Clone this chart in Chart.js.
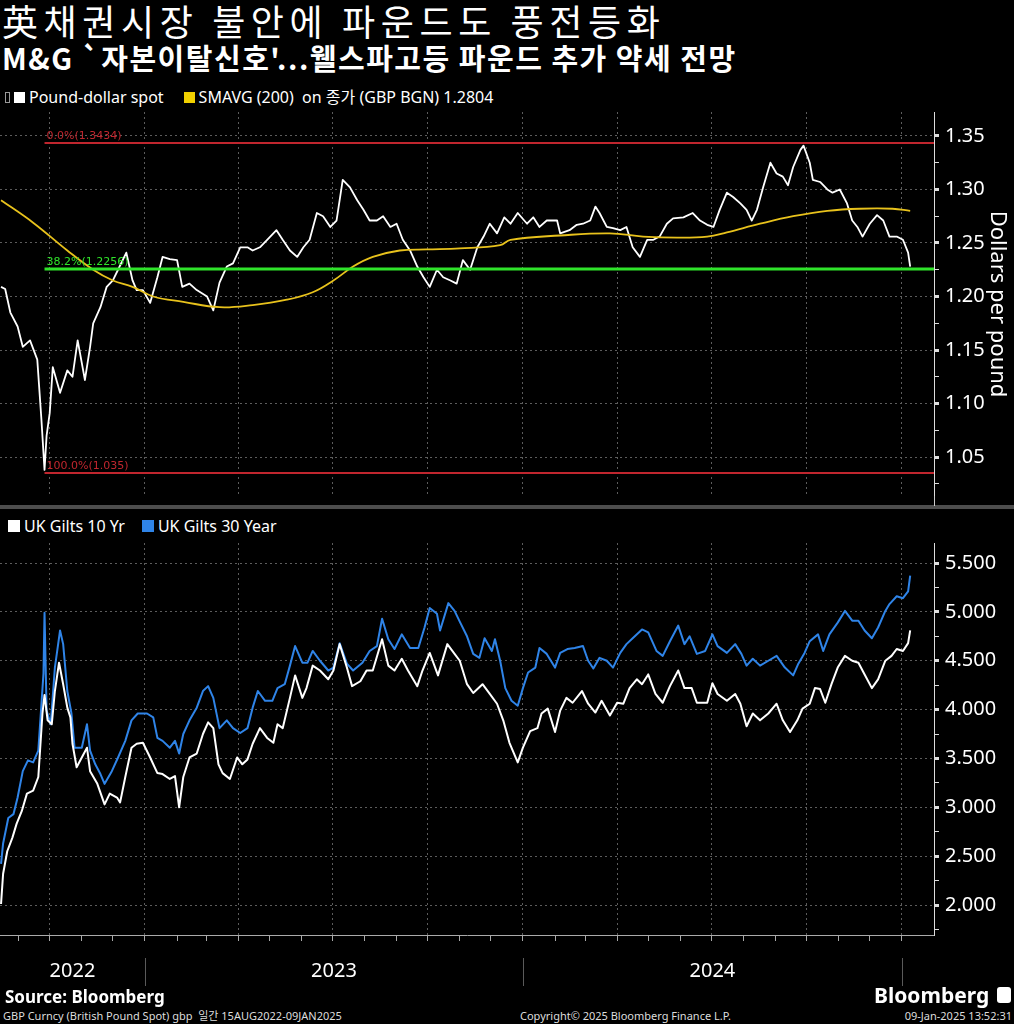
<!DOCTYPE html>
<html>
<head>
<meta charset="utf-8">
<script src="https://cdn.jsdelivr.net/npm/chart.js@4.4.1/dist/chart.umd.min.js"></script>
<style>
  body { margin: 0; background: #000; width: 1014px; height: 1024px; overflow: hidden; position: relative;
         font-family: "Noto Sans", "Noto Sans CJK KR", sans-serif; color: #fff; }
  .abs { position: absolute; white-space: nowrap; }
  #t1 { left: 2px; top: -1px; font-family: "Noto Sans CJK KR"; font-size: 36px; line-height: 42px; letter-spacing: 5.6px; }
  #t2 { left: 2px; top: 41px; font-family: "Noto Sans CJK KR"; font-size: 29px; line-height: 32px; font-weight: 700; letter-spacing: 1.5px; }
  .leg { font-size: 16px; line-height: 20px; display: flex; align-items: center; }
  .sq { display: inline-block; width: 11px; height: 11px; margin-right: 4px; }
  #sep { left: 0; top: 505px; width: 1014px; height: 4px; background: #4d4d4d; }
  #axisExt { left: 934px; top: 496px; width: 1px; height: 10px; background: #ccc; }
  #src { left: 5px; top: 987px; font-size: 17px; line-height: 20px; font-weight: 700; }
  .small { top: 1009px; font-size: 11px; line-height: 14px; color: #ddd; }
  #logo { left: 874px; top: 982px; font-size: 21px; line-height: 26px; font-weight: 700; display: flex; align-items: center; }
  #logo span { display: inline-block; width: 14px; height: 16px; background: #fff; border-radius: 3px; margin-left: 8px; }
  canvas { position: absolute; left: 0; }
</style>
</head>
<body>
<div id="t1" class="abs">英채권시장 불안에 파운드도 풍전등화</div>
<div id="t2" class="abs">M&amp;G `자본이탈신호'...웰스파고등 파운드 추가 약세 전망</div>
<div class="abs leg" style="left:5px;top:87px;">
  <span style="display:inline-block;width:3px;height:9px;border:1px solid #999;margin-right:4px;"></span>
  <span class="sq" style="background:#fff"></span>Pound-dollar spot
  <span class="sq" style="background:#f0d000;margin-left:20px;"></span>SMAVG (200)&nbsp;&nbsp;on 종가 (GBP BGN) 1.2804
</div>
<div class="abs leg" style="left:8px;top:516px;">
  <span class="sq" style="background:#fff;width:12px;height:12px;"></span>UK Gilts 10 Yr
  <span class="sq" style="background:#2f84e8;width:12px;height:12px;margin-left:17px;"></span>UK Gilts 30 Year
</div>

<canvas id="top" width="1014" height="400" style="top:110px"></canvas>
<canvas id="bottom" width="1014" height="450" style="top:540px"></canvas>
<div id="sep" class="abs"></div>
<div id="axisExt" class="abs"></div>

<div id="src" class="abs">Source: Bloomberg</div>
<div class="abs small" style="left:3px;">GBP Curncy (British Pound Spot) gbp &nbsp;일간 15AUG2022-09JAN2025</div>
<div class="abs small" style="left:520px;">Copyright© 2025 Bloomberg Finance L.P.</div>
<div class="abs small" style="right:2px;">09-Jan-2025 13:52:31</div>
<div id="logo" class="abs">Bloomberg<span></span></div>

<script>
// x values are days since 15 Aug 2022
const xMin = -1, xMax = 901;
const quarterDays = [47, 139, 229, 320, 412, 504, 595, 686, 778, 870];
const monthDays = [17, 47, 78, 108, 139, 170, 198, 229, 259, 290, 320, 351, 382, 412, 443, 473,
  504, 535, 564, 595, 625, 656, 686, 717, 748, 778, 809, 839, 870];
const yearLabels = ['2022', '2023', '2024'];
const yearStarts = [-1, 139, 504, 870];

// pound-dollar spot
const spotDays = [0,4,9,16,21,28,35,39,42,44,47,50,57,64,69,74,81,86,89,96,
  102,108,113,121,127,131,137,144,151,156,163,170,175,182,189,199,205,211,218,224,
  231,238,243,250,257,266,272,279,286,292,298,305,311,318,324,330,337,344,350,356,
  363,369,376,382,388,395,402,408,414,421,427,434,440,446,453,460,466,472,479,486,
  492,499,508,514,520,527,537,540,549,556,562,569,574,578,585,591,598,604,610,617,
  624,630,636,643,649,659,668,675,682,688,694,701,707,714,720,725,730,736,743,749,
  755,760,765,772,775,781,784,791,798,803,810,817,822,827,832,839,846,852,858,865,
  871,876,878];
const spotValues = [1.209,1.207,1.185,1.172,1.153,1.159,1.141,1.085,1.038,1.070,
  1.091,1.134,1.110,1.131,1.125,1.159,1.122,1.153,1.175,1.190,
  1.209,1.215,1.225,1.241,1.215,1.206,1.206,1.194,1.218,1.237,
  1.235,1.234,1.209,1.212,1.206,1.200,1.187,1.213,1.228,1.231,
  1.246,1.246,1.243,1.246,1.253,1.262,1.253,1.243,1.237,1.246,
  1.253,1.278,1.275,1.265,1.271,1.309,1.302,1.290,1.281,1.271,
  1.271,1.275,1.265,1.268,1.253,1.243,1.228,1.218,1.209,1.225,
  1.218,1.215,1.212,1.234,1.225,1.246,1.256,1.268,1.259,1.274,
  1.268,1.278,1.268,1.274,1.265,1.271,1.271,1.259,1.262,1.267,
  1.268,1.271,1.284,1.278,1.265,1.264,1.262,1.265,1.246,1.237,
  1.253,1.253,1.256,1.268,1.273,1.274,1.278,1.271,1.267,1.265,
  1.281,1.297,1.293,1.287,1.281,1.271,1.281,1.302,1.325,1.315,
  1.312,1.304,1.321,1.337,1.341,1.325,1.309,1.307,1.300,1.297,
  1.300,1.287,1.271,1.265,1.256,1.268,1.276,1.271,1.256,1.256,
  1.253,1.241,1.228];

// 200-day moving average
const smaDays = [0,31,64,89,108,127,147,176,211,243,276,301,321,340,359,385,411,443,482,492,
  540,588,620,653,682,701,733,765,798,829,861,878];
const smaValues = [1.290,1.269,1.243,1.225,1.215,1.209,1.200,1.195,1.190,1.192,
  1.197,1.204,1.215,1.228,1.237,1.243,1.244,1.245,1.248,1.253,
  1.257,1.259,1.256,1.255,1.256,1.260,1.268,1.275,1.280,1.282,1.282,1.280];

// fibonacci retracement levels
const fibStartDay = 42;
const fibLevels = [1.3434, 1.2256, 1.035];
const fibLabels = ['0.0%(1.3434)', '38.2%(1.2256)', '100.0%(1.035)'];
const fibColors = ['#c0262e', '#2fe32a', '#c0262e'];

// gilt yields
const gilt10Days = [0,2,6,11,15,20,25,31,36,40,42,45,49,52,56,60,64,67,69,73,
  78,83,86,93,100,105,112,115,120,126,131,137,144,151,156,163,168,172,176,182,
  189,195,200,205,210,214,221,228,233,238,243,250,257,263,267,272,279,284,291,295,
  301,308,316,321,327,334,339,347,353,359,368,374,380,387,393,402,407,414,422,431,
  438,443,450,456,465,472,479,485,491,499,504,511,518,522,528,535,540,546,552,561,
  567,574,580,588,595,601,607,614,619,625,632,639,646,654,660,667,672,682,687,692,
  701,709,714,720,726,733,741,749,755,762,769,774,781,786,791,796,802,808,815,822,
  828,834,841,847,854,860,865,871,876,878];
const gilt10Values = [2.01,2.32,2.55,2.69,2.83,2.96,3.14,3.17,3.31,3.96,
  4.15,3.89,3.85,4.19,4.48,4.26,4.02,3.92,3.65,3.41,
  3.51,3.61,3.37,3.24,3.03,3.14,3.10,3.05,3.31,3.61,
  3.65,3.66,3.51,3.35,3.34,3.29,3.32,3.00,3.31,3.51,
  3.55,3.75,3.87,3.81,3.44,3.35,3.29,3.51,3.44,3.49,
  3.65,3.81,3.71,3.66,3.85,3.81,4.12,4.35,4.12,4.22,
  4.45,4.40,4.31,4.40,4.67,4.43,4.24,4.29,4.40,4.40,
  4.72,4.45,4.40,4.52,4.40,4.24,4.40,4.58,4.35,4.67,
  4.57,4.50,4.26,4.17,4.26,4.16,4.06,3.89,3.66,3.46,
  3.61,3.78,3.81,3.96,4.01,3.77,3.99,4.12,4.07,4.19,
  4.06,3.97,4.09,3.94,4.07,4.06,4.22,4.31,4.26,4.36,
  4.16,4.07,4.24,4.40,4.22,4.22,4.07,4.07,4.27,4.16,
  4.09,4.16,4.06,3.83,3.96,3.89,3.96,4.06,3.89,3.77,
  3.89,4.01,4.06,4.22,4.21,4.07,4.26,4.43,4.55,4.50,
  4.48,4.36,4.22,4.31,4.50,4.55,4.62,4.60,4.68,4.81];
const gilt30Days = [0,2,7,12,16,21,26,31,36,41,42,44,48,52,57,60,64,68,71,78,
  83,86,91,96,100,107,113,120,126,132,141,147,151,156,163,168,172,176,182,189,
  195,200,205,211,218,224,231,238,243,248,255,262,267,274,279,284,291,296,301,308,
  316,321,327,334,340,349,356,363,368,374,380,387,395,403,409,414,421,424,432,438,
  443,450,456,462,467,474,477,482,487,493,499,504,509,516,520,527,535,540,547,554,
  562,567,572,578,585,591,598,604,610,619,625,633,639,646,654,660,665,672,680,687,
  692,701,709,715,720,726,733,741,749,757,765,770,776,781,789,794,800,808,815,822,
  828,834,841,847,854,858,865,871,876,878];
const gilt30Values = [2.42,2.63,2.89,2.93,3.10,3.37,3.48,3.46,3.58,4.37,
  4.99,3.99,3.85,4.43,4.81,4.67,4.19,3.96,3.61,3.61,
  3.85,3.58,3.44,3.34,3.24,3.37,3.51,3.68,3.89,3.96,
  3.96,3.92,3.71,3.68,3.61,3.68,3.55,3.75,3.89,4.02,
  4.19,4.24,4.12,3.81,3.89,3.81,3.76,3.81,4.02,4.19,
  4.09,4.09,4.22,4.26,4.45,4.65,4.48,4.48,4.60,4.50,
  4.40,4.43,4.68,4.47,4.40,4.48,4.60,4.65,4.93,4.72,
  4.62,4.77,4.63,4.63,4.84,5.04,4.98,4.81,5.09,5.01,
  4.90,4.75,4.57,4.53,4.73,4.60,4.72,4.50,4.22,4.09,
  4.04,4.22,4.38,4.43,4.63,4.57,4.43,4.58,4.62,4.63,
  4.65,4.50,4.42,4.53,4.50,4.43,4.58,4.67,4.73,4.82,
  4.79,4.60,4.55,4.70,4.86,4.67,4.75,4.57,4.60,4.77,
  4.65,4.58,4.67,4.57,4.45,4.52,4.45,4.50,4.55,4.43,
  4.35,4.47,4.58,4.70,4.77,4.60,4.77,4.89,5.01,4.91,
  4.91,4.81,4.73,4.84,5.01,5.08,5.16,5.14,5.21,5.37];

// axis ticks
const priceMajor = ['1.05', '1.10', '1.15', '1.20', '1.25', '1.30', '1.35'];
const priceMinor = [1.025, 1.075, 1.125, 1.175, 1.225, 1.275, 1.325];
const yieldMajor = ['2.000', '2.500', '3.000', '3.500', '4.000', '4.500', '5.000', '5.500'];
const yieldMinor = [1.75, 2.25, 2.75, 3.25, 3.75, 4.25, 4.75, 5.25];

const pts = (xs, ys) => xs.map((d, i) => ({ x: d, y: ys[i] }));
const isMajor = (list, v) => list.some(l => Math.abs(Number(l) - v) < 1e-6);
const gridGrey = '#5c5c5c';

function yAxis(major, minor, min, max, title) {
  return {
    position: 'right', min: min, max: max,
    afterBuildTicks: s => {
      s.ticks = major.map(Number).concat(minor).sort((a, b) => a - b).map(v => ({ value: v }));
    },
    afterFit: s => { s.width = 80; s.paddingTop = 0; s.paddingBottom = 0; },
    ticks: {
      color: '#fff', padding: 6, autoSkip: false, font: { family: 'Noto Sans', size: 20 },
      callback: v => major.find(l => Math.abs(Number(l) - v) < 1e-6) || ''
    },
    grid: {
      color: c => isMajor(major, c.tick.value) ? gridGrey : 'transparent',
      tickColor: '#ddd', tickLength: 5,
      tickWidth: c => isMajor(major, c.tick.value) ? 3 : 1
    },
    border: { color: '#ddd', width: 1, dash: [2, 3] },
    title: title ? { display: true, text: title, color: '#fff', font: { family: 'Noto Sans', size: 22 }, padding: { top: 4, bottom: 4 } } : { display: false }
  };
}

const fibText = {
  id: 'fibText',
  afterDatasetsDraw(chart) {
    const { ctx, scales: { x, y } } = chart;
    ctx.save();
    ctx.font = '11px "DejaVu Sans"';
    ctx.textBaseline = 'bottom';
    fibLevels.forEach((v, i) => {
      ctx.fillStyle = fibColors[i];
      ctx.fillText(fibLabels[i], x.getPixelForValue(fibStartDay) + 2, y.getPixelForValue(v) - 1);
    });
    ctx.restore();
  }
};

const yearText = {
  id: 'yearText',
  afterDraw(chart) {
    const { ctx, scales: { x } } = chart;
    ctx.save();
    ctx.font = '20px "Noto Sans"';
    ctx.fillStyle = '#fff';
    ctx.textAlign = 'center';
    ctx.textBaseline = 'middle';
    yearLabels.forEach((lab, i) => {
      const a = x.getPixelForValue(Math.max(yearStarts[i], xMin));
      const b = x.getPixelForValue(yearStarts[i + 1]);
      ctx.fillText(lab, (a + b) / 2, 431);
    });
    ctx.strokeStyle = '#5a5a5a';
    ctx.lineWidth = 1;
    yearStarts.slice(1).forEach(d => {
      const px = Math.round(x.getPixelForValue(d)) + 0.5;
      ctx.beginPath(); ctx.moveTo(px, 418); ctx.lineTo(px, 446); ctx.stroke();
    });
    ctx.restore();
  }
};

const common = {
  responsive: false, animation: false, devicePixelRatio: 1,
  plugins: { legend: { display: false }, tooltip: { enabled: false } },
  elements: { point: { radius: 0 }, line: { tension: 0, borderJoinStyle: 'round' } }
};

new Chart(document.getElementById('top'), {
  type: 'line',
  data: {
    datasets: fibLevels.map((v, i) => ({
      data: [{ x: fibStartDay, y: v }, { x: xMax, y: v }],
      borderColor: fibColors[i], borderWidth: i === 1 ? 3 : 2
    })).concat([
      { data: pts(smaDays, smaValues), borderColor: '#e8c21c', borderWidth: 1.8, tension: 0.4 },
      { data: pts(spotDays, spotValues), borderColor: '#ffffff', borderWidth: 1.8 }
    ])
  },
  options: Object.assign({}, common, {
    layout: { padding: { top: 2, bottom: 14, left: 0, right: 0 } },
    scales: {
      x: {
        type: 'linear', min: xMin, max: xMax,
        afterBuildTicks: s => { s.ticks = quarterDays.map(v => ({ value: v })); },
        afterFit: s => { s.height = 0; s.paddingLeft = 0; s.paddingRight = 0; },
        ticks: { display: false },
        grid: { color: gridGrey, drawTicks: false },
        border: { display: false, dash: [2, 3] }
      },
      y: yAxis(priceMajor, priceMinor, 1.0136, 1.3724, 'Dollars per pound')
    }
  }),
  plugins: [fibText]
});

new Chart(document.getElementById('bottom'), {
  type: 'line',
  data: {
    datasets: [
      { data: pts(gilt10Days, gilt10Values), borderColor: '#ffffff', borderWidth: 2 },
      { data: pts(gilt30Days, gilt30Values), borderColor: '#2f84e8', borderWidth: 2 }
    ]
  },
  options: Object.assign({}, common, {
    layout: { padding: { top: 3, bottom: 0, left: 0, right: 0 } },
    scales: {
      x: {
        type: 'linear', min: xMin, max: xMax,
        afterBuildTicks: s => { s.ticks = monthDays.map(v => ({ value: v })); },
        afterFit: s => { s.height = 55; s.paddingLeft = 0; s.paddingRight = 0; },
        ticks: { display: false },
        grid: {
          color: c => quarterDays.includes(c.tick.value) ? gridGrey : 'transparent',
          tickColor: '#aaa', tickLength: 6
        },
        border: { color: '#aaa', width: 1, dash: [2, 3] }
      },
      y: yAxis(yieldMajor, yieldMinor, 1.693, 5.705, null)
    }
  }),
  plugins: [yearText]
});
</script>
</body>
</html>
